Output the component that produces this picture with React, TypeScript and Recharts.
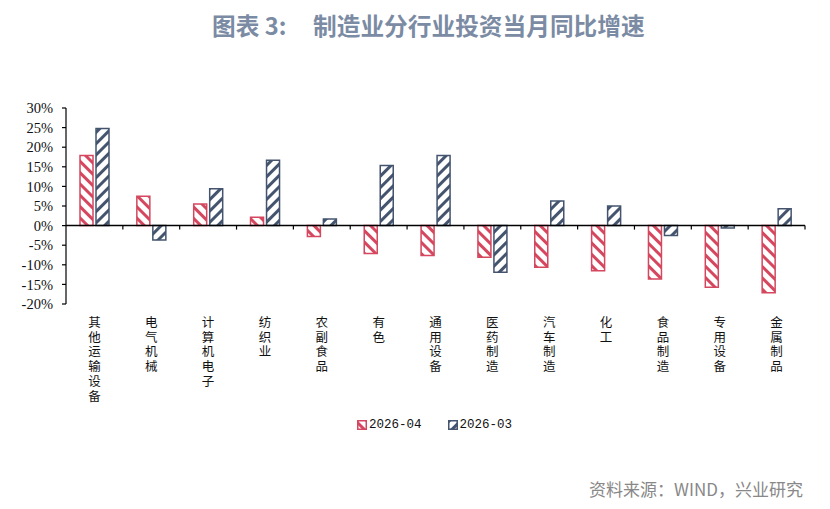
import React from 'react';
import { BarChart, Bar, XAxis, YAxis, ReferenceLine } from 'recharts';

// categories and the two monthly series (% yoy)
const categories = [
  '其他运输设备', '电气机械', '计算机电子', '纺织业', '农副食品', '有色', '通用设备',
  '医药制造', '汽车制造', '化工', '食品制造', '专用设备', '金属制品',
];
const apr2026 = [17.9, 7.5, 5.5, 2.1, -2.8, -7.1, -7.6, -8.1, -10.6, -11.5, -13.6, -15.7, -17.1];
const mar2026 = [24.8, -3.7, 9.4, 16.7, 1.7, 15.3, 17.9, -11.9, 6.3, 5.0, -2.5, -0.6, 4.3];
const yTicks = [-20, -15, -10, -5, 0, 5, 10, 15, 20, 25, 30];
const seriesNames = ['2026-04', '2026-03'];

const data = categories.map((name, i) => ({ name, apr: apr2026[i], mar: mar2026[i] }));

const RED = '#D4475E';
const BLUE = '#44546F';

// layout constants
const W = 830;
const H = 420;
const M = { top: 108, right: 25, bottom: 16, left: 0 };
const Y_W = 66;
const X_H = 100;
const plotW = W - M.left - Y_W - M.right;
const plotH = H - M.top - M.bottom - X_H;
const zeroY = M.top + (plotH * 30) / 50;

const Patterns = ({ prefix }: { prefix: string }) => (
  <defs>
    <pattern id={`${prefix}-red`} patternUnits="userSpaceOnUse" width="8" height="8" patternTransform="rotate(45)">
      <rect x="0" y="0" width="8" height="8" fill="#fff" />
      <rect x="0" y="0" width="8" height="3" fill={RED} />
    </pattern>
    <pattern id={`${prefix}-blue`} patternUnits="userSpaceOnUse" width="8" height="8" patternTransform="rotate(-45)">
      <rect x="0" y="0" width="8" height="8" fill="#fff" />
      <rect x="0" y="0" width="8" height="3" fill={BLUE} />
    </pattern>
  </defs>
);

const CategoryTick = (props: any) => {
  const { x, payload } = props;
  const band = plotW / categories.length;
  const chars = String(payload.value).split('');
  return (
    <g>
      {/* boundary tick on the zero line */}
      <line x1={x + band / 2} x2={x + band / 2} y1={zeroY} y2={zeroY + 4} stroke="#000" strokeWidth={1.2} />
      {chars.map((c, i) => (
        <text
          key={i}
          x={x}
          y={327 + i * 14.7}
          textAnchor="middle"
          fontSize={12.5}
          fontFamily="'Noto Sans CJK SC', sans-serif"
          fill="#111"
        >
          {c}
        </text>
      ))}
    </g>
  );
};

const LegendItem = ({ color, id, label }: { color: string; id: string; label: string }) => (
  <div style={{ display: 'flex', alignItems: 'center', marginRight: 26 }}>
    <svg width={10} height={10} style={{ marginRight: 2 }}>
      <Patterns prefix={`lg-${id}`} />
      <rect x={0.75} y={0.75} width={8.5} height={8.5} fill={`url(#lg-${id}-${id})`} stroke={color} strokeWidth={1.5} />
    </svg>
    <span style={{ fontFamily: "'Liberation Mono', monospace", fontSize: 12.5, color: '#111' }}>{label}</span>
  </div>
);

const titleStyle: React.CSSProperties = {
  position: 'absolute',
  top: 8,
  fontFamily: "'Noto Sans CJK SC', sans-serif",
  fontWeight: 700,
  fontSize: 23.7,
  color: '#7B8BA4',
  whiteSpace: 'pre',
  lineHeight: '34px',
};

export default function App() {
  return (
    <div style={{ position: 'absolute', left: 0, top: 0, width: W, height: 509, background: '#fff', overflow: 'hidden' }}>
      <div style={{ ...titleStyle, left: 212 }}>图表 3:</div>
      <div style={{ ...titleStyle, left: 313 }}>制造业分行业投资当月同比增速</div>

      <div style={{ position: 'absolute', left: 0, top: 0 }}>
        <BarChart width={W} height={H} data={data} margin={M} barSize={13} barGap={3}>
          <Patterns prefix="ch" />
          <XAxis
            dataKey="name"
            axisLine={false}
            tickLine={false}
            height={X_H}
            interval={0}
            tick={<CategoryTick />}
          />
          <YAxis
            width={Y_W}
            domain={[-20, 30]}
            ticks={yTicks}
            interval={0}
            tickFormatter={(v: number) => `${v}%`}
            axisLine={{ stroke: '#000', strokeWidth: 1.2 }}
            tickLine={{ stroke: '#000', strokeWidth: 1.2 }}
            tickSize={4}
            tickMargin={9}
            tick={{ fill: '#111', fontSize: 14.5, fontFamily: "'Liberation Serif', serif" }}
          />
          <Bar dataKey="apr" name={seriesNames[0]} fill="url(#ch-red)" stroke={RED} strokeWidth={1.5} isAnimationActive={false} />
          <Bar dataKey="mar" name={seriesNames[1]} fill="url(#ch-blue)" stroke={BLUE} strokeWidth={1.5} isAnimationActive={false} />
          <ReferenceLine y={0} stroke="#000" strokeWidth={1.5} />
        </BarChart>
      </div>

      <div style={{ position: 'absolute', left: 357, top: 416, display: 'flex', alignItems: 'center', height: 18 }}>
        <LegendItem color={RED} id="red" label={seriesNames[0]} />
        <LegendItem color={BLUE} id="blue" label={seriesNames[1]} />
      </div>

      <div
        style={{
          position: 'absolute',
          right: 27,
          top: 478,
          fontFamily: "'Noto Sans CJK SC', sans-serif",
          fontSize: 17,
          color: '#888',
          lineHeight: '22px',
        }}
      >
        资料来源：WIND，兴业研究
      </div>
    </div>
  );
}
